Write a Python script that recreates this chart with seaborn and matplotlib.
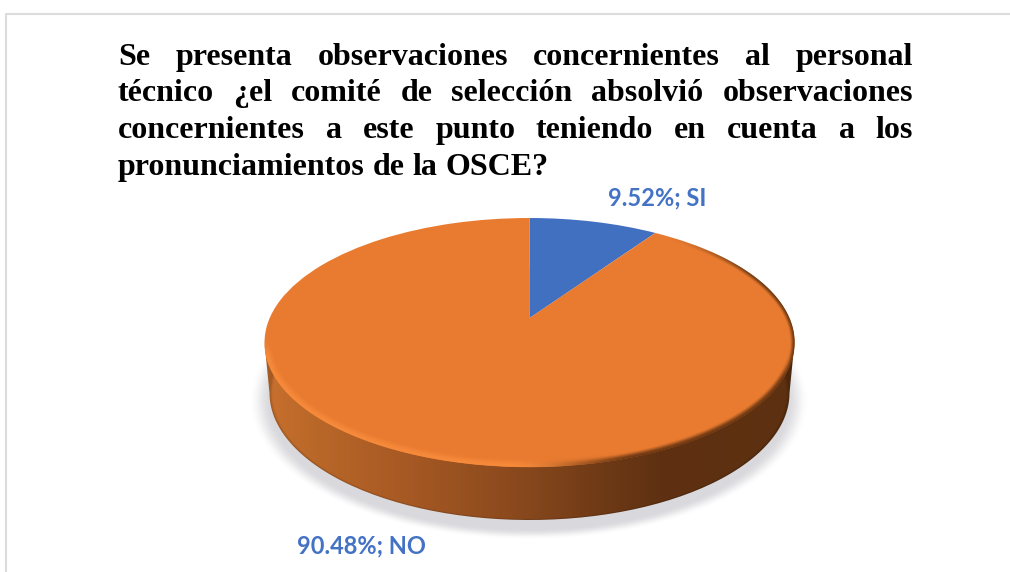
import numpy as np
import matplotlib
matplotlib.use("Agg")
import matplotlib.pyplot as plt
from matplotlib.path import Path
from matplotlib.patches import PathPatch
from matplotlib.transforms import Transform
import seaborn as sns

categories = ["SI", "NO"]
values = [9.52, 90.48]
slice_colors = ["#4270C0", "#E97B30"]
title_lines = [
    "Se presenta observaciones concernientes al personal",
    "técnico ¿el comité de selección absolvió observaciones",
    "concernientes a este punto teniendo en cuenta a los",
    "pronunciamientos de la OSCE?",
]

W, H = 1010, 572
sns.set_theme(style="white")
palette = sns.color_palette(slice_colors)
fig = plt.figure(figsize=(W / 100, H / 100), dpi=100, facecolor="white")
ax = fig.add_axes([0, 0, 1, 1])

# ---- perspective view of the unit pie disk
CX, AY, A, B, K = 529.5, 318.0, 259.8, 119.7, 0.197


class Disk(Transform):
    input_dims = output_dims = 2
    is_separable = False

    def transform_non_affine(self, xy):
        xy = np.asarray(xy, float)
        w = 1 + K * xy[:, 1]
        return np.column_stack([CX + A * xy[:, 0] / w, AY - B * xy[:, 1] / w])


wedges, _ = ax.pie(values, colors=palette, startangle=90, counterclock=False,
                   wedgeprops=dict(linewidth=0))
ax.set_aspect("auto")
ax.set_xlim(0, W)
ax.set_ylim(H, 0)
ax.axis("off")
for w in wedges:
    w.set_transform(Disk() + ax.transData)
    w.set_zorder(5)
    w.set_clip_on(False)

xx, yy = np.meshgrid(np.arange(W) + .5, np.arange(H) + .5)
ext = (0, W, H, 0)
TC, TRY, TRX = 342.5, 124.5, 265.0   # visible top ellipse
BC, BRY, BRX = 393.0, 127.0, 260.0   # lower outline


def smooth(e0, e1, v):
    t = np.clip((v - e0) / (e1 - e0), 0, 1)
    return t * t * (3 - 2 * t)


# frame
ax.plot([5.5, 5.5, W], [H, 13.5, 13.5], color="#DCDCDC", lw=1.5, zorder=1)

# soft shadow
rs = np.hypot((xx - 529) / 270, (yy - 401) / 134)
sh = np.zeros((H, W, 4))
sh[..., :3] = matplotlib.colors.to_rgb("#D0D0D5")
sh[..., 3] = 0.8 * (1 - smooth(0.955, 1.035, rs))
ax.imshow(sh, extent=ext, zorder=2, aspect="auto", interpolation="bilinear")

# side wall
th = np.linspace(np.pi, 0, 120)
lower = np.column_stack([CX + BRX * np.cos(th), BC + BRY * np.sin(th)])
th2 = np.linspace(0, np.pi, 120)
upper = np.column_stack([CX + TRX * np.cos(th2), TC + TRY * np.sin(th2) * 0.5])
side = Path(np.vstack([[CX - TRX, TC], lower, [CX + TRX, TC], upper, [CX - TRX, TC]]))
stops_x = [265, 300, 400, 530, 600, 660, 800]
stops = np.array([matplotlib.colors.to_rgb(c) for c in
                  ["#C9702F", "#BD6A2A", "#A85A24", "#86471C", "#6F3A16", "#5F3112", "#5C3010"]])
grad = np.stack([np.interp(xx, stops_x, stops[:, i]) for i in range(3)], axis=-1)
rb = np.hypot((xx - CX) / BRX, (yy - BC) / BRY)
grad = grad * (1 - 0.18 * smooth(0.985, 1.0, rb))[..., None]
im = ax.imshow(grad, extent=ext, zorder=3, aspect="auto", interpolation="bilinear")
im.set_clip_path(PathPatch(side, transform=ax.transData))

# bevel on the rim of the top: light on the lower left, dark on the right
px, py = (xx - CX) / TRX, (yy - TC) / TRY
rt = np.hypot(px, py)
gn = np.hypot(px / TRX, py / TRY) / np.maximum(rt, 1e-6)
dist = (1 - rt) / np.maximum(gn, 1e-6)
light = np.array(matplotlib.colors.to_rgb("#F88C3C"))
dark = np.array(matplotlib.colors.to_rgb("#6A3612"))
mix = smooth(510, 640, xx)
bev = np.zeros((H, W, 4))
bev[..., :3] = light * (1 - mix[..., None]) + dark * mix[..., None]
inside = smooth(-0.8, 0.4, dist)
light_a = smooth(-0.02, 0.12, py) * (1 - smooth(0.5, 9.0, dist)) * 0.9
dark_a = smooth(0.5, 0.9, px) * (1 - smooth(0.0, 5.0, dist)) * 0.95
dark_a = np.maximum(dark_a, smooth(0.0, 0.3, py) * (1 - smooth(0.5, 6.5, dist)) * 0.95)
bev[..., 3] = inside * (light_a * (1 - mix) + dark_a * mix)
ax.imshow(bev, extent=ext, zorder=6, aspect="auto", interpolation="bilinear")
ax.set_xlim(0, W)
ax.set_ylim(H, 0)

# data labels
label_pos = [(657, 198), (361.5, 546)]
for c, v, (lx, ly) in zip(categories, values, label_pos):
    ax.text(lx, ly, f"{v:.2f}%; {c}", color="#4472C4", fontfamily="Lato",
            fontweight="bold", fontsize=17, ha="center", va="center", zorder=8)

# justified title, set word by word
LEFT, RIGHT = 118, 913
FS = 23
baselines = [65, 101, 138, 175]
fig.canvas.draw()
r = fig.canvas.get_renderer()
for i, (line, by) in enumerate(zip(title_lines, baselines)):
    words = line.split(" ")
    ts = [ax.text(0, by, w_, fontfamily="Liberation Serif", fontweight="bold",
                  fontsize=FS, color="black", ha="left", va="baseline", zorder=9) for w_ in words]
    widths = [t.get_window_extent(r).width for t in ts]
    sp = ax.text(0, by, "a a", fontfamily="Liberation Serif", fontweight="bold", fontsize=FS)
    sw = sp.get_window_extent(r).width
    sp.set_text("aa")
    sw -= sp.get_window_extent(r).width
    sp.remove()
    gap = (RIGHT - LEFT - sum(widths)) / (len(words) - 1) if i < 3 else sw
    x = LEFT
    for t, wd in zip(ts, widths):
        t.set_x(x)
        x += wd + gap

fig.savefig("out.png", dpi=100, facecolor="white")
